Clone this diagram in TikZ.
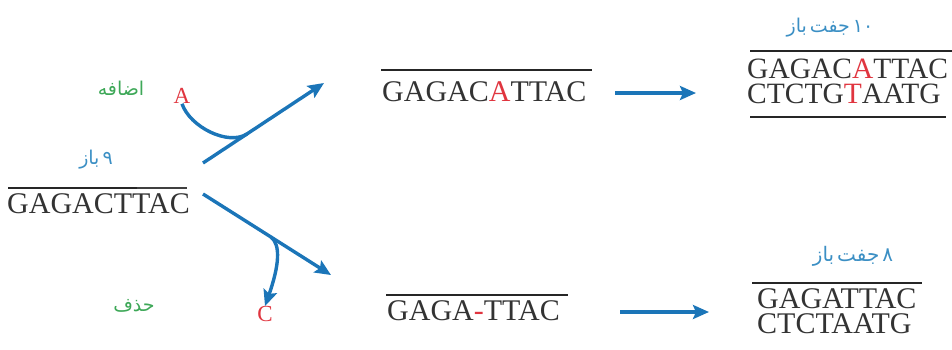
\documentclass[tikz,border=0pt]{standalone}
\usepackage{fontspec}
\setmainfont{Liberation Serif}
\newfontfamily\fa[Script=Arabic]{DejaVu Sans}
\TeXXeTstate=1
\usetikzlibrary{arrows.meta}
\definecolor{arrowblue}{HTML}{1B75B8}
\definecolor{txtblue}{HTML}{3B8FC4}
\definecolor{txtgreen}{HTML}{3EA858}
\definecolor{txtred}{HTML}{E0353F}
\definecolor{dnagray}{HTML}{333333}
\newcommand{\fsp}{\hspace{3pt}}
\tikzset{
  dna/.style={inner sep=0pt, anchor=base west, text=dnagray, text height=19pt, text depth=0pt,
    font=\fontsize{30}{30}\selectfont},
  fatext/.style={inner sep=0pt, font=\fa\fontsize{19}{19}\selectfont},
  base/.style={inner sep=0pt, text=txtred, font=\fontsize{23}{23}\selectfont},
  blarrow/.style={draw=arrowblue, line width=3.4pt, -{Stealth[length=16pt,width=14pt,inset=3pt]}},
  blcurve/.style={draw=arrowblue, line width=3.4pt},
  bar/.style={draw=black!85, line width=2pt},
}
\begin{document}
\begin{tikzpicture}[x=1pt,y=-1pt]
\useasboundingbox (0,0) rectangle (952,349);
% left strand
\node[fatext, text=txtblue] (nine) at (96,160) {\beginR ۹\fsp باز\endR};
\node[dna] (orig) at (7,213) {GAGACTTAC};
\draw[bar] (8,188) -- (137,188);
\draw[draw=black!75, line width=1.1pt] (137,188) -- (187,188);
% insertion
\node[fatext, text=txtgreen] (add) at (121,88) {\beginR اضافه\endR};
\node[base] (A) at (182,96) {A};
\coordinate (s1) at (203,163);
\coordinate (e1) at (324,83);
\coordinate (j1) at (247,134);
\draw[blarrow] (s1) -- (e1);
\draw[blcurve] (A.south) .. controls (190,127) and (228,146) .. (j1);
% deletion
\node[fatext, text=txtgreen] (del) at (134,306) {\beginR حذف\endR};
\node[base] (C) at (265,314) {C};
\coordinate (s2) at (203,194);
\coordinate (e2) at (331,275);
\coordinate (j2) at (271,237);
\draw[blarrow] (s2) -- (e2);
\draw[blarrow] (j2) .. controls (281,245) and (279,266) .. (C.north);
% middle top
\node[dna] (mid1) at (382,101) {GAGAC\textcolor{txtred}{A}TTAC};
\draw[bar] (381,70) -- (592,70);
% middle bottom
\node[dna] (mid2) at (387,320) {GAGA\textcolor{txtred}{-}TTAC};
\draw[bar] (386,295) -- (568,295);
% right top
\node[fatext, text=txtblue] (ten) at (830,28) {\beginR\beginL ۱۰\endL\fsp جفت\fsp باز\endR};
\node[dna, font=\fontsize{29.5}{29.5}\selectfont] (r1a) at (747,78) {GAGAC\textcolor{txtred}{A}TTAC};
\node[dna, font=\fontsize{29.5}{29.5}\selectfont] (r1b) at (747,103) {CTCTG\textcolor{txtred}{T}AATG};
\draw[bar] (750,51) -- (952,51);
\draw[bar] (750,117) -- (946,117);
% right bottom
\node[fatext, text=txtblue, font=\fa\fontsize{20}{20}\selectfont] (eight) at (853,256) {\beginR ۸\fsp جفت\fsp باز\endR};
\node[dna] (r2a) at (757,308) {GAGATTAC};
\node[dna] (r2b) at (757,333) {CTCTAATG};
\draw[bar] (752,283) -- (922,283);
% horizontal arrows
\coordinate (h1s) at (615,93);
\coordinate (h1e) at (696,93);
\coordinate (h2s) at (620,312);
\coordinate (h2e) at (709,312);
\draw[blarrow] (h1s) -- (h1e);
\draw[blarrow] (h2s) -- (h2e);
\end{tikzpicture}
\end{document}
